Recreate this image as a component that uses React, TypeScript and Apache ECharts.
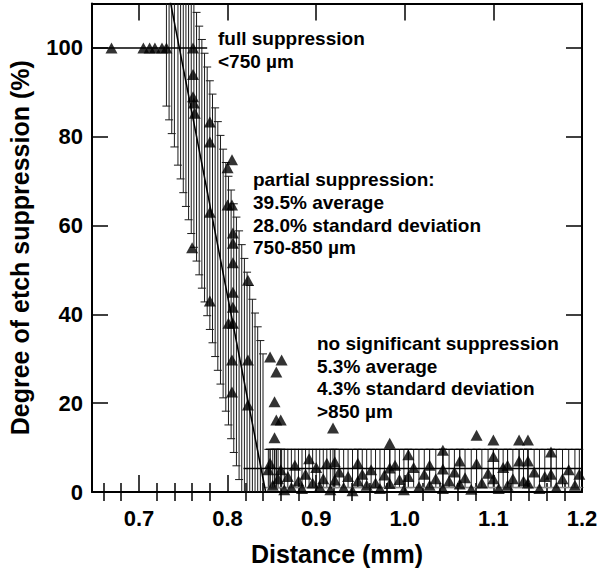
import React, { useEffect, useRef } from "react";
import * as echarts from "echarts";

// ---------- data ----------
const xMajorTicks = [0.7, 0.8, 0.9, 1.0, 1.1, 1.2];
const xMinorTicks = [0.66, 0.68, 0.72, 0.74, 0.76, 0.78, 0.82, 0.84, 0.86, 0.88, 0.92, 0.94, 0.96, 0.98, 1.02, 1.04, 1.06, 1.08, 1.12, 1.14, 1.16, 1.18];
const yTicks = [0, 20, 40, 60, 80, 100];

// full suppression group (<750 µm)
const fullPoints: number[][] = [
  [0.669, 100], [0.705, 100], [0.712, 100], [0.718, 100], [0.726, 100], [0.731, 100],
];
const fullLine: number[][] = [[0.647, 100], [0.777, 100]];

// partial suppression group (750-850 µm)
const partialPoints: number[][] = [
  [0.761, 100], [0.761, 94], [0.761, 89], [0.762, 87.6], [0.763, 85.3], [0.78, 83.3],
  [0.78, 78.8], [0.805, 74.8], [0.8, 73], [0.78, 63], [0.8, 64.6], [0.805, 64.6],
  [0.806, 58.3], [0.806, 56], [0.806, 51.6], [0.823, 47.7], [0.76, 55], [0.78, 43],
  [0.806, 45], [0.806, 41.6], [0.801, 38], [0.806, 38], [0.805, 29.7], [0.823, 29.7],
  [0.805, 22.5], [0.823, 19.6],
];
const partialSd = 28.0;
const partialBarX = [
  0.731, 0.734, 0.737, 0.74, 0.744, 0.747, 0.75, 0.753, 0.756, 0.759, 0.762, 0.765, 0.768,
  0.771, 0.774, 0.777, 0.78, 0.783, 0.786, 0.789, 0.792, 0.795, 0.798, 0.801, 0.804, 0.807,
  0.81, 0.813, 0.816, 0.819, 0.822, 0.825, 0.828, 0.831, 0.834, 0.837, 0.84,
];
const partialBarCenter = [
  114.9, 111.8, 108.7, 105.7, 101.6, 98.5, 95.4, 92.3, 89.3, 86.2, 83.1, 80.0, 76.9,
  73.9, 70.8, 67.7, 64.6, 61.6, 58.5, 55.4, 52.3, 49.2, 46.2, 43.1, 40.0, 36.9,
  33.9, 30.8, 27.7, 24.6, 21.5, 18.5, 15.4, 12.3, 9.2, 6.1, 3.1,
];
const fitLine: number[][] = [[0.733, 112.9], [0.843, 0]];

// no significant suppression group (>850 µm)
const noneAvg = 5.3;
const noneSd = 4.3;
const nonePoints: number[][] = [
  [0.846, 5.0], [0.848, 6.5], [0.848, 30.4], [0.851, 1.5], [0.853, 20.3], [0.853, 12.2],
  [0.855, 27.0], [0.855, 16.2], [0.857, 3.0], [0.86, 16.2], [0.86, 5.0], [0.861, 29.7],
  [0.864, 0.5], [0.868, 3.5], [0.872, 1.0], [0.876, 6.0], [0.88, 2.5], [0.884, 0.8],
  [0.888, 4.0], [0.892, 7.5], [0.896, 2.0], [0.9, 5.5], [0.904, 1.2], [0.908, 3.0],
  [0.912, 6.5], [0.916, 0.5], [0.919, 14.4], [0.921, 6.8], [0.921, 2.7], [0.926, 4.5],
  [0.931, 1.0], [0.936, 3.5], [0.941, 0.3], [0.947, 6.5], [0.947, 2.5], [0.952, 4.0],
  [0.957, 1.5], [0.962, 5.0], [0.967, 2.0], [0.972, 0.8], [0.977, 3.8], [0.983, 11.0],
  [0.983, 5.4], [0.983, 1.9], [0.989, 6.0], [0.994, 2.8], [0.999, 0.5], [1.004, 8.4],
  [1.004, 3.5], [1.01, 5.5], [1.016, 1.2], [1.022, 4.0], [1.028, 6.0], [1.028, 1.5],
  [1.035, 3.0], [1.043, 9.4], [1.043, 5.2], [1.043, 0.8], [1.05, 2.5], [1.056, 4.5],
  [1.062, 7.0], [1.062, 1.8], [1.068, 3.2], [1.075, 0.6], [1.081, 12.8], [1.081, 6.4],
  [1.087, 2.0], [1.094, 4.2], [1.1, 11.7], [1.1, 8.0], [1.1, 3.0], [1.106, 0.8],
  [1.111, 5.5], [1.116, 6.0], [1.116, 1.5], [1.122, 3.0], [1.129, 11.7], [1.129, 7.0],
  [1.134, 2.5], [1.139, 11.7], [1.139, 7.0], [1.139, 2.0], [1.146, 4.5], [1.152, 0.8],
  [1.158, 3.5], [1.165, 9.0], [1.165, 4.0], [1.171, 1.0], [1.178, 3.0], [1.185, 5.0],
  [1.192, 1.5], [1.197, 4.0],
];
const noneMeanStart = 0.818;
const noneBandStart = 0.843;

const X_MIN = 0.647;
const X_MAX = 1.2;
const Y_MIN = 0;
const Y_MAX = 110;

const FONT = "'Liberation Sans', Arial, Helvetica, sans-serif";

function makeErrRender(capHalf: number) {
  return (_params: any, api: any) => {
    const x = api.value(0);
    const lo = api.value(1);
    const hi = api.value(2);
    const loC = Math.max(lo, Y_MIN);
    const hiC = Math.min(hi, Y_MAX);
    if (hiC <= loC) return null;
    const p1 = api.coord([x, loC]);
    const p2 = api.coord([x, hiC]);
    const st = { stroke: "#1a1a1a", lineWidth: 1 };
    const children: any[] = [
      { type: "line", shape: { x1: p1[0], y1: p1[1], x2: p2[0], y2: p2[1] }, style: st },
    ];
    if (lo >= Y_MIN)
      children.push({ type: "line", shape: { x1: p1[0] - capHalf, y1: p1[1], x2: p1[0] + capHalf, y2: p1[1] }, style: st });
    if (hi <= Y_MAX)
      children.push({ type: "line", shape: { x1: p2[0] - capHalf, y1: p2[1], x2: p2[0] + capHalf, y2: p2[1] }, style: st });
    return { type: "group", children };
  };
}

export default function App() {
  const ref = useRef<HTMLDivElement>(null);
  useEffect(() => {
    if (!ref.current) return;
    const chart = echarts.init(ref.current, undefined, { renderer: "svg" });

    const partialBars = partialBarX.map((x, i) => [x, partialBarCenter[i] - partialSd, partialBarCenter[i] + partialSd]);
    const noneBars = nonePoints.map((p) => [p[0], noneAvg - noneSd, noneAvg + noneSd]);

    const axisLine = { show: true, onZero: false, lineStyle: { color: "#000", width: 2 } };
    const baseX = { type: "value", min: X_MIN, max: X_MAX, splitLine: { show: false }, gridIndex: 0 };
    const baseY = { type: "value", min: Y_MIN, max: Y_MAX, splitLine: { show: false }, gridIndex: 0 };
    const tickStyle = { color: "#000", width: 1.5 };
    const labelStyle = { color: "#000", fontFamily: FONT, fontWeight: "bold", fontSize: 22 };

    const option: any = {
      animation: false,
      backgroundColor: "#fff",
      grid: { left: 92, right: 18, top: 3.5, bottom: 79, containLabel: false, outerBoundsMode: "none" },
      xAxis: [
        {
          ...baseX, position: "bottom", axisLine,
          axisTick: { show: true, inside: true, length: 17, lineStyle: tickStyle, customValues: xMajorTicks },
          axisLabel: { show: true, ...labelStyle, margin: 15, customValues: xMajorTicks, formatter: (v: number) => v.toFixed(1) },
          name: "Distance (mm)", nameLocation: "middle", nameGap: 49,
          nameTextStyle: { color: "#000", fontFamily: FONT, fontWeight: "bold", fontSize: 25 },
        },
        {
          ...baseX, position: "bottom", axisLine: { show: false },
          axisTick: { show: true, inside: true, length: 9, lineStyle: tickStyle, customValues: xMinorTicks },
          axisLabel: { show: false },
        },
        {
          ...baseX, position: "top", axisLine,
          axisTick: { show: true, inside: true, length: 17, lineStyle: tickStyle, customValues: xMajorTicks },
          axisLabel: { show: false },
        },
        {
          ...baseX, position: "top", axisLine: { show: false },
          axisTick: { show: true, inside: true, length: 9, lineStyle: tickStyle, customValues: xMinorTicks },
          axisLabel: { show: false },
        },
      ],
      yAxis: [
        {
          ...baseY, position: "left", axisLine,
          axisTick: { show: true, inside: true, length: 16, lineStyle: tickStyle, customValues: yTicks },
          axisLabel: { show: true, ...labelStyle, margin: 9, customValues: yTicks },
          name: "Degree of etch suppression (%)", nameLocation: "middle", nameGap: 60, nameRotate: 90,
          nameTextStyle: { color: "#000", fontFamily: FONT, fontWeight: "bold", fontSize: 25 },
        },
        {
          ...baseY, position: "right", axisLine,
          axisTick: { show: true, inside: true, length: 16, lineStyle: tickStyle, customValues: yTicks },
          axisLabel: { show: false },
        },
      ],
      graphic: [
        {
          type: "text", x: 218, y: 26.5,
          style: { text: "full suppression\n<750 \u00b5m", fontFamily: FONT, fontWeight: "bold", fontSize: 19, lineHeight: 23, fill: "#000", verticalAlign: "top" },
        },
        {
          type: "text", x: 253, y: 168.5,
          style: { text: "partial suppression:\n39.5% average\n28.0% standard deviation\n750-850 \u00b5m", fontFamily: FONT, fontWeight: "bold", fontSize: 19, lineHeight: 22.7, fill: "#000", verticalAlign: "top" },
        },
        {
          type: "text", x: 317, y: 332.5,
          style: { text: "no significant suppression\n5.3% average\n4.3% standard deviation\n>850 \u00b5m", fontFamily: FONT, fontWeight: "bold", fontSize: 19, lineHeight: 22.5, fill: "#000", verticalAlign: "top" },
        },
      ],
      series: [
        { type: "custom", xAxisIndex: 0, yAxisIndex: 0, renderItem: makeErrRender(4), data: partialBars, z: 1 },
        { type: "custom", xAxisIndex: 0, yAxisIndex: 0, renderItem: makeErrRender(4), data: noneBars, z: 1 },
        { type: "line", data: fullLine, symbol: "none", lineStyle: { color: "#000", width: 1.5 }, z: 2 },
        { type: "line", data: fitLine, symbol: "none", lineStyle: { color: "#000", width: 1.5 }, z: 2, clip: true },
        { type: "line", data: [[noneMeanStart, noneAvg], [X_MAX, noneAvg]], symbol: "none", lineStyle: { color: "#000", width: 1.5 }, z: 2 },
        { type: "line", data: [[noneBandStart, noneAvg + noneSd], [X_MAX, noneAvg + noneSd]], symbol: "none", lineStyle: { color: "#000", width: 1.2 }, z: 2 },
        { type: "line", data: [[noneBandStart, noneAvg - noneSd], [X_MAX, noneAvg - noneSd]], symbol: "none", lineStyle: { color: "#888", width: 1.5 }, z: 2 },
        { type: "scatter", data: fullPoints, symbol: "triangle", symbolSize: [12, 11], itemStyle: { color: "#000" }, z: 3 },
        { type: "scatter", data: partialPoints, symbol: "triangle", symbolSize: [12, 11], itemStyle: { color: "#000" }, z: 3 },
        { type: "scatter", data: nonePoints, symbol: "triangle", symbolSize: [12, 11], itemStyle: { color: "#000" }, z: 3 },
      ],
    };
    chart.setOption(option);
    return () => chart.dispose();
  }, []);
  return <div ref={ref} style={{ position: "absolute", left: 0, top: 0, width: 600, height: 571 }} />;
}
